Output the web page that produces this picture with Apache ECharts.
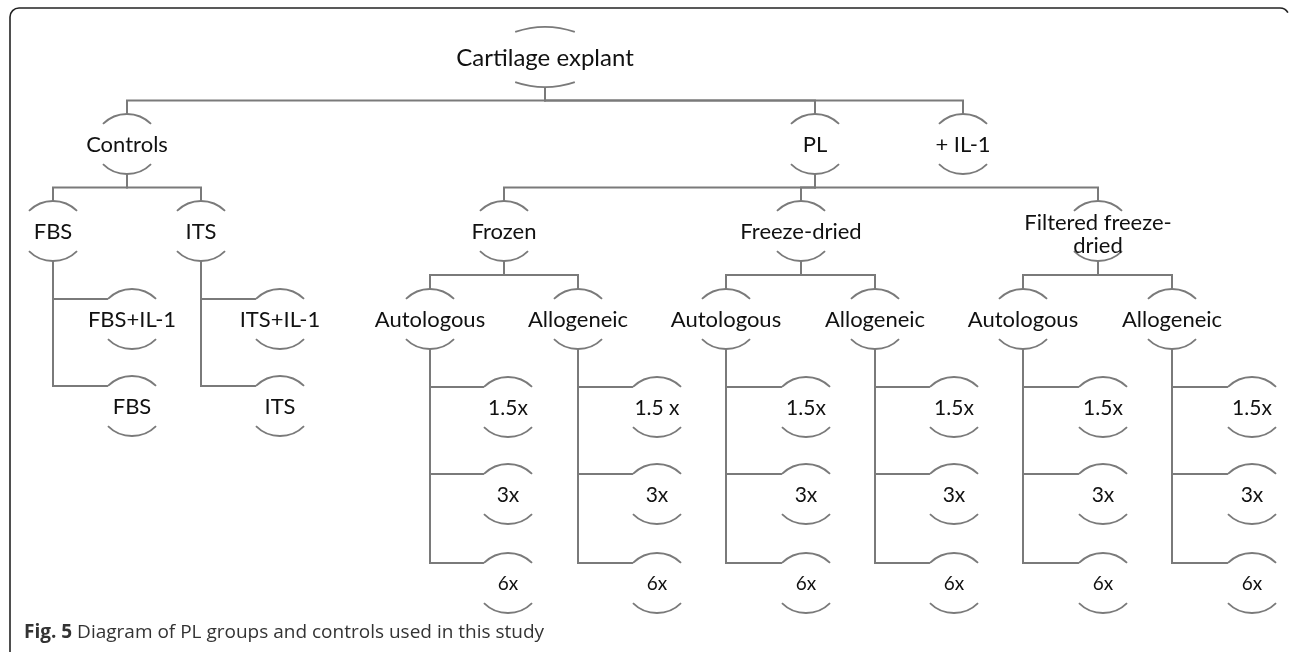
<!DOCTYPE html>
<html>
<head>
<meta charset="utf-8">
<script src="https://cdn.jsdelivr.net/npm/echarts@6/dist/echarts.min.js"></script>
<style>
  html, body { margin: 0; padding: 0; background: #fff; }
  #chart { width: 1290px; height: 655px; }
</style>
</head>
<body>
<div id="chart"></div>
<script>
// tree nodes (x / y in diagram units, same scale as the picture)
const nodeLabels = [
  'Cartilage explant', 'Controls', 'PL', '+ IL-1',
  'FBS', 'ITS', 'FBS+IL-1', 'FBS', 'ITS+IL-1', 'ITS',
  'Frozen', 'Freeze-dried', 'Filtered freeze-\ndried',
  'Autologous', 'Allogeneic', 'Autologous', 'Allogeneic', 'Autologous', 'Allogeneic',
  '1.5x', '3x', '6x', '1.5 x', '3x', '6x', '1.5x', '3x', '6x',
  '1.5x', '3x', '6x', '1.5x', '3x', '6x', '1.5x', '3x', '6x'
];
const nodeParent = [
  -1, 0, 0, 0,
  1, 1, 4, 4, 5, 5,
  2, 2, 2,
  10, 10, 11, 11, 12, 12,
  13, 13, 13, 14, 14, 14, 15, 15, 15,
  16, 16, 16, 17, 17, 17, 18, 18, 18
];
// 'tree' = branch from a bus line, 'hang' = listed below the parent
const nodeLink = [
  '', 'tree', 'tree', 'tree',
  'tree', 'tree', 'hang', 'hang', 'hang', 'hang',
  'tree', 'tree', 'tree',
  'tree', 'tree', 'tree', 'tree', 'tree', 'tree',
  'hang', 'hang', 'hang', 'hang', 'hang', 'hang', 'hang', 'hang', 'hang',
  'hang', 'hang', 'hang', 'hang', 'hang', 'hang', 'hang', 'hang', 'hang'
];
const nodeX = [
  545, 127, 815, 963,
  53, 201, 132, 132, 280, 280,
  504, 801, 1098,
  430, 578, 726, 875, 1023, 1172,
  508, 508, 508, 657, 657, 657, 806, 806, 806,
  954, 954, 954, 1103, 1103, 1103, 1252, 1252, 1252
];
const nodeY = [
  58, 145, 145, 145,
  232, 232, 320, 407, 320, 407,
  232, 232, 232,
  320, 320, 320, 320, 320, 320,
  408, 495, 584, 408, 495, 584, 408, 495, 584,
  408, 495, 584, 408, 495, 584, 408, 495, 584
];

const LINE = '#7a7a7a';
const TOP = 31, BOT = 29, SAG = 10, R = 34;

function topOf(i) { return nodeY[i] - TOP; }
function botOf(i) { return nodeY[i] + BOT; }

// connector polylines built from the node arrays
const links = [];
for (let i = 1; i < nodeLabels.length; i++) {
  const p = nodeParent[i];
  if (nodeLink[i] === 'tree') {
    const bus = (botOf(p) + topOf(i)) / 2;
    links.push({ coords: [[nodeX[p], botOf(p)], [nodeX[p], bus], [nodeX[i], bus], [nodeX[i], topOf(i)]] });
  } else {
    const y = topOf(i) + SAG;
    const half = R * Math.SQRT1_2;
    links.push({ coords: [[nodeX[p], botOf(p)], [nodeX[p], y], [nodeX[i] - half, y]] });
  }
}

const nodeData = nodeLabels.map((t, i) => [nodeX[i], nodeY[i], i]);

function renderNode(params, api) {
  const i = api.value(2);
  const pt = api.coord([api.value(0), api.value(1)]);
  const top = api.coord([api.value(0), topOf(i)]);
  const bot = api.coord([api.value(0), botOf(i)]);
  const label = nodeLabels[i];
  let r = R, ang = Math.PI / 4;
  if (i === 0) { r = 92; ang = 0.33; }
  let size = 22;
  if (i === 0) size = 24;
  else if (label === '6x') size = 19;
  else if (i >= 19) size = 21;
  const arcStyle = { stroke: '#7a7a7a', fill: null, lineWidth: 1.8 };
  return {
    type: 'group',
    children: [
      {
        type: 'arc',
        shape: { cx: top[0], cy: top[1] + r, r: r, startAngle: -Math.PI / 2 - ang, endAngle: -Math.PI / 2 + ang, clockwise: true },
        style: arcStyle
      },
      {
        type: 'arc',
        shape: { cx: bot[0], cy: bot[1] - r, r: r, startAngle: Math.PI / 2 - ang, endAngle: Math.PI / 2 + ang, clockwise: true },
        style: arcStyle
      },
      {
        type: 'text',
        style: {
          text: label, x: pt[0], y: pt[1] + (i === 12 ? 2 : 0),
          align: 'center', verticalAlign: 'middle',
          fontFamily: 'Lato', fontSize: size, lineHeight: 23,
          fill: '#111'
        }
      }
    ]
  };
}

const frame = { stroke: '#222', fill: null, lineWidth: 1.6 };

const myChart = echarts.init(document.getElementById('chart'));
myChart.setOption({
  animation: false,
  title: {
    text: '{b|Fig. 5} Diagram of PL groups and controls used in this study',
    left: 24,
    top: 623,
    padding: 0,
    textStyle: {
      fontFamily: 'Open Sans', fontSize: 19, fontWeight: 'normal', color: '#333',
      rich: { b: { fontFamily: 'Open Sans', fontSize: 19, fontWeight: 'bold', color: '#333' } }
    }
  },
  graphic: [
    { type: 'polyline', shape: { points: [[10, 652], [10, 17]] }, style: frame },
    { type: 'arc', shape: { cx: 19, cy: 17, r: 9, startAngle: Math.PI, endAngle: Math.PI * 1.5 }, style: frame },
    { type: 'polyline', shape: { points: [[19, 8], [1280, 8]] }, style: frame },
    { type: 'arc', shape: { cx: 1280, cy: 17, r: 9, startAngle: -Math.PI / 2, endAngle: -0.5 }, style: frame }
  ],
  grid: { left: 0, right: 0, top: 0, bottom: 0 },
  xAxis: { type: 'value', min: 0, max: 1290, show: false },
  yAxis: { type: 'value', min: 0, max: 655, inverse: true, show: false },
  series: [
    {
      type: 'lines',
      coordinateSystem: 'cartesian2d',
      polyline: true,
      silent: true,
      lineStyle: { color: LINE, width: 2, opacity: 1 },
      data: links
    },
    {
      type: 'custom',
      coordinateSystem: 'cartesian2d',
      renderItem: renderNode,
      data: nodeData
    }
  ]
});
</script>
</body>
</html>
